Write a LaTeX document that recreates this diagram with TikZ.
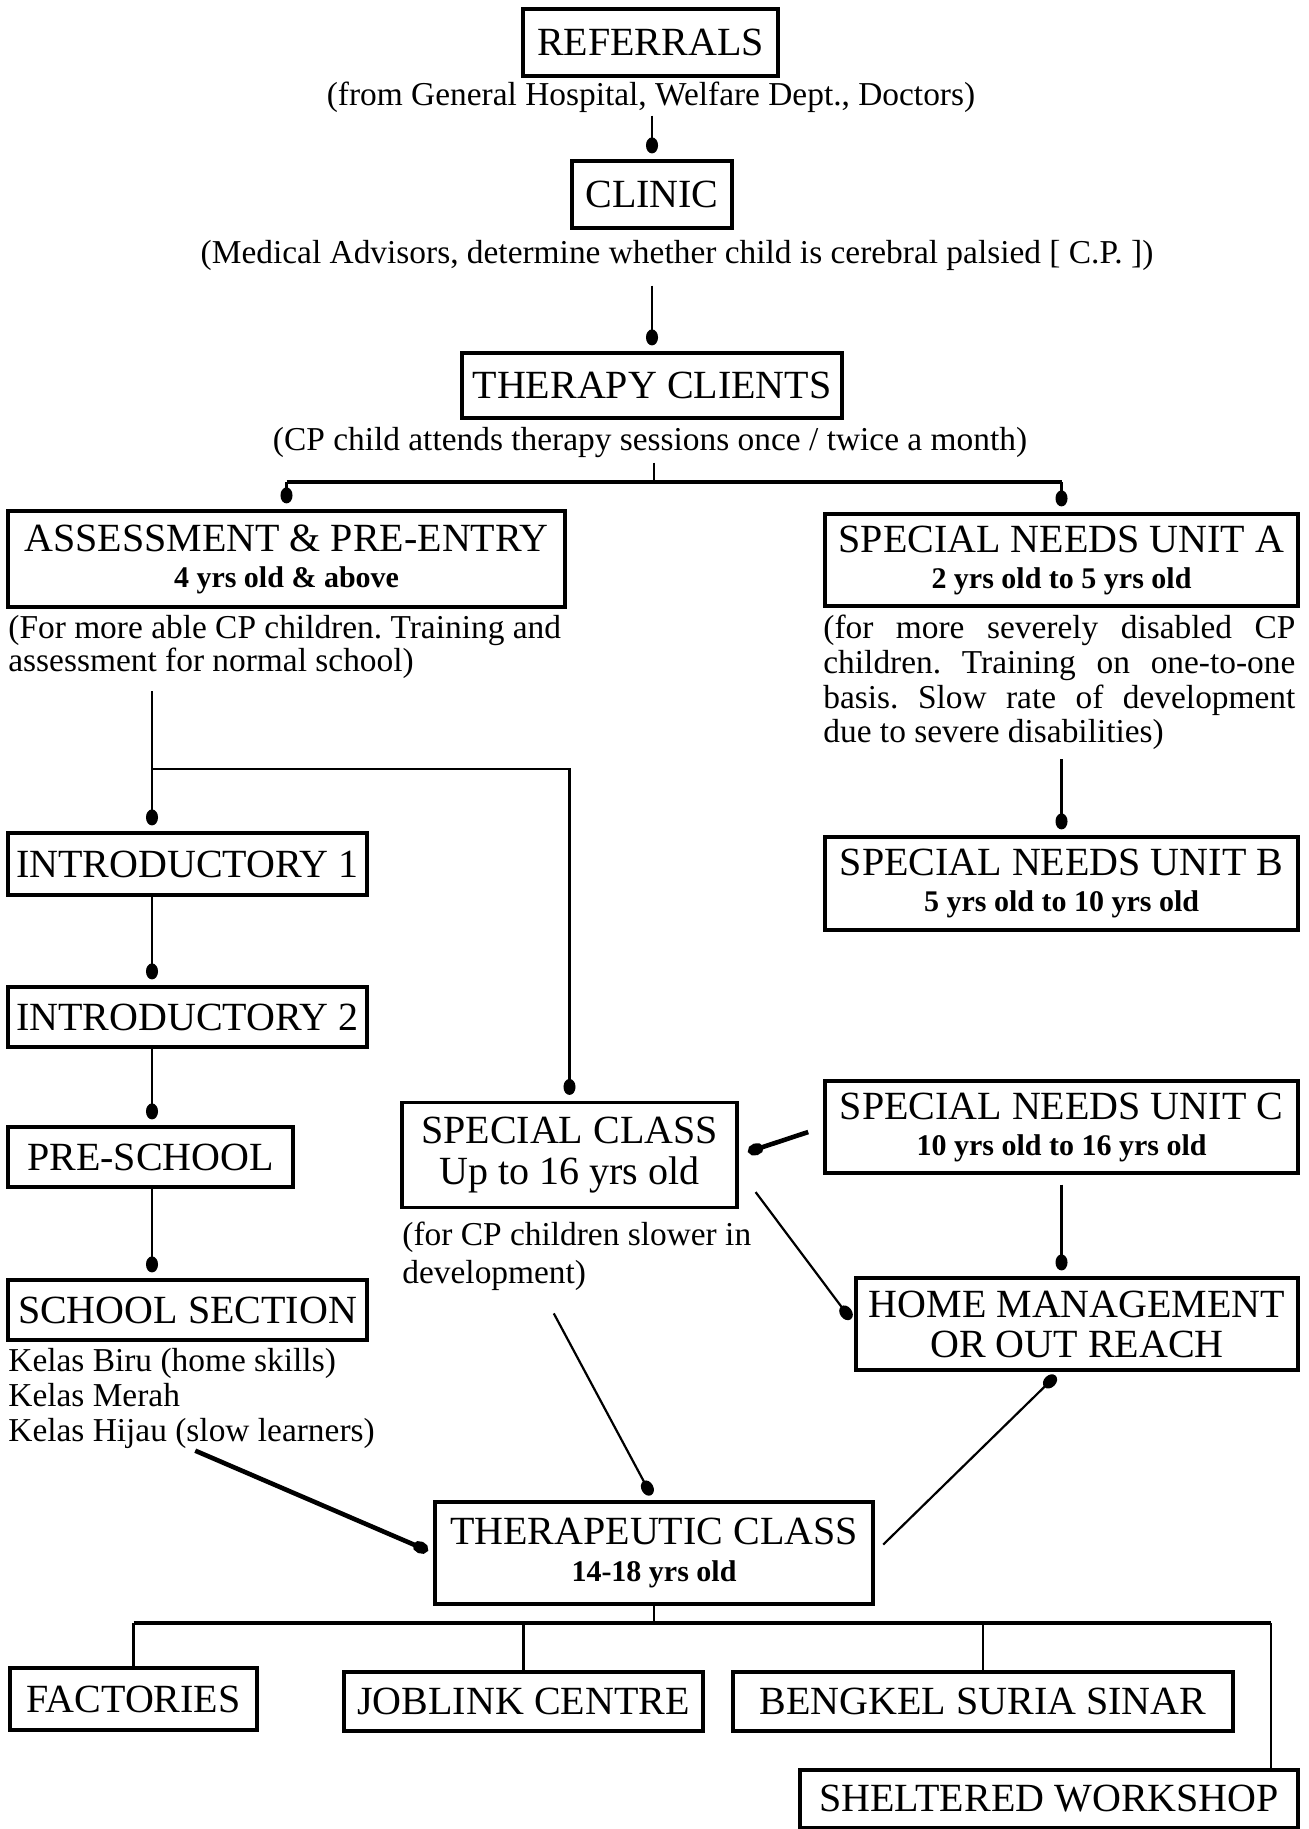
\documentclass[tikz,border=0pt]{standalone}
\usepackage{fontspec}
\setmainfont{Liberation Serif}
\usepackage{tikz}
\usetikzlibrary{arrows.meta,calc}

\newcommand{\boxfont}{\fontsize{20}{23}\selectfont}
\newcommand{\agefont}{\fontsize{15}{17}\selectfont\bfseries}
\newcommand{\notefont}{\fontsize{16.7}{16.5}\selectfont\frenchspacing}

\tikzset{
  box/.style 2 args={draw, line width=1.6pt, align=center, inner sep=0pt,
    font=\boxfont, minimum width=#1*0.5pt, minimum height=#2*0.5pt},
  note/.style={inner sep=0pt, font=\notefont},
  link/.style={line width=1.1pt},
  heavy/.style={line width=2.3pt},
  dot/.style={-{Circle[length=8pt,width=6pt]}, shorten >=3pt},
}

\begin{document}
\begin{tikzpicture}[x=0.5pt, y=-0.5pt]
        \useasboundingbox (0, 0) rectangle (1308, 1829);
        % top column
        \node [box={255}{67}] (refer) at (650.5, 42.5) {REFERRALS};
        \node [note] (referdesc) at (651, 97) {(from General Hospital, Welfare Dept., Doctors)};
        \node [box={160}{67}] (clinic) at (652, 194.5) {CLINIC};
        \node [note] (clinicdesc) at (677, 255) {(Medical Advisors, determine whether child is cerebral palsied [ C.P. ])};
        \node [box={380}{65}] (therapy) at (652, 385.5) {THERAPY CLIENTS};
        \node [note] (therapydesc) at (650, 443) {(CP child attends therapy sessions once / twice a month)};
        \coordinate (split) at (654, 482);
        % two branches
        \node [box={557}{96}] (assess) at (286.5, 559) {ASSESSMENT \& PRE-ENTRY\\[-5pt]{\agefont 4 yrs old \& above}};
        \node [box={473}{92}] (snua) at (1061.5, 560) {SPECIAL NEEDS UNIT A\\[-5pt]{\agefont 2 yrs old to 5 yrs old}};
        \node [note, anchor=north west, align=left] (assessdesc) at (8, 615)
            {(For more able CP children. Training and\\assessment for normal school)};
        \node [note, anchor=north west, text width=236pt, align=justify,
            font=\fontsize{16.7}{17.3}\selectfont\frenchspacing] (snuadesc) at (823, 615)
            {(for more severely disabled CP\linebreak children. Training on one-to-one\linebreak basis. Slow rate of development\linebreak due to severe disabilities)};
        \coordinate (abranch) at (152, 769);
        % left column
        \node [box={359}{62}] (intro1) at (187.5, 864) {INTRODUCTORY 1};
        \node [box={359}{60}] (intro2) at (187.5, 1017) {INTRODUCTORY 2};
        \node [box={285}{60}] (presch) at (150.5, 1157) {PRE-SCHOOL};
        \node [box={359}{60}] (school) at (187.5, 1310) {SCHOOL SECTION};
        \node [note, anchor=north west, align=left, font=\fontsize{16.7}{17.5}\selectfont] (schooldesc) at (8, 1348)
            {Kelas Biru (home skills)\\Kelas Merah\\Kelas Hijau (slow learners)};
        % middle
        \node [box={335}{105}] (special) at (569.5, 1155) {SPECIAL CLASS\\[-2.5pt]Up to 16 yrs old};
        \node [note, anchor=north west, align=left, font=\fontsize{16.7}{19}\selectfont] (specialdesc) at (402, 1222)
            {(for CP children slower in\\development)};
        % right column
        \node [box={473}{93}] (snub) at (1061.5, 883.5) {SPECIAL NEEDS UNIT B\\[-5pt]{\agefont 5 yrs old to 10 yrs old}};
        \node [box={473}{92}] (snuc) at (1061.5, 1127) {SPECIAL NEEDS UNIT C\\[-5pt]{\agefont 10 yrs old to 16 yrs old}};
        \node [box={442}{92}] (home) at (1077, 1324) {HOME MANAGEMENT\\[-3pt]OR OUT REACH};
        % bottom
        \node [box={438}{102}] (therapeutic) at (654, 1553) {THERAPEUTIC CLASS\\[-4.5pt]{\agefont 14-18 yrs old}};
        \coordinate (tsplit) at (654, 1623);
        \node [box={247}{62}] (factories) at (133.5, 1699) {FACTORIES};
        \node [box={359}{59}] (joblink) at (523.5, 1701.5) {JOBLINK CENTRE};
        \node [box={500}{59}] (bengkel) at (983, 1701.5) {BENGKEL SURIA SINAR};
        \node [box={498}{58}] (shelter) at (1049, 1799) {SHELTERED WORKSHOP};
        \coordinate (shelterdrop) at (1271, 1770);

        % connectors
        \draw [link, dot, shorten <=1.5pt] (clinic.north |- referdesc.south) -- (clinic.north);
        \draw [link, dot, shorten <=7.5pt] (therapy.north |- clinicdesc.south) -- (therapy.north);
        \draw [link, shorten <=2pt] (split |- therapydesc.south) -- (split);
        \draw [heavy] (assess.north |- split) -- (snua.north |- split);
        \draw [link, dot] (assess.north |- split) -- (assess.north);
        \draw [link, dot] (snua.north |- split) -- (snua.north);
        \draw [link, dot, shorten <=6pt] (abranch |- assessdesc.south) -- (abranch |- intro1.north);
        \draw [link, dot] (abranch) -| (special.north);
        \draw [link, dot] (abranch |- intro1.south) -- (abranch |- intro2.north);
        \draw [link, dot] (abranch |- intro2.south) -- (abranch |- presch.north);
        \draw [link, dot] (abranch |- presch.south) -- (abranch |- school.north);
        \draw [link, dot, shorten <=4.5pt] (snub.north |- snuadesc.south) -- (snub.north);
        \draw [heavy, dot, shorten <=8pt, shorten >=5pt] (snuc.west) -- (special.east);
        \draw [link, dot] ($(special.south east)+(17,-17)$) -- (home.west);
        \draw [link, dot, shorten <=5pt] (snuc.south) -- (snuc.south |- home.north);
        \draw [link, dot] ($(specialdesc.south)+(-23,22)$) -- (therapeutic.north);
        \draw [heavy, dot, shorten <=2pt] (schooldesc.south) -- (therapeutic.west);
        \draw [link, dot, shorten <=6pt] (therapeutic.east) -- ($(home.south)+(-17,0)$);
        % tree to the work places
        \draw [link] (therapeutic.south) -- (tsplit);
        \draw [heavy] (factories.north |- tsplit) -- (shelterdrop |- tsplit);
        \draw [link] (factories.north |- tsplit) -- (factories.north);
        \draw [link] (joblink.north |- tsplit) -- (joblink.north);
        \draw [link] (bengkel.north |- tsplit) -- (bengkel.north);
        \draw [link] (shelterdrop |- tsplit) -- (shelterdrop);
    \end{tikzpicture}
\end{document}
